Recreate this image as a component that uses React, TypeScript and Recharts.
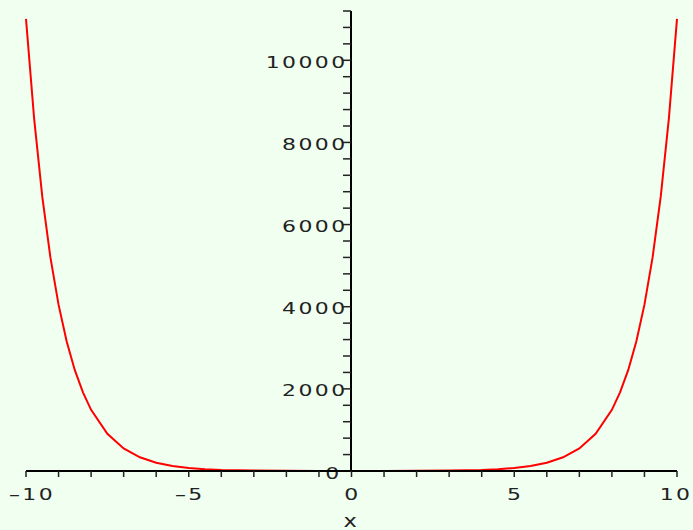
import { LineChart, Line, XAxis, YAxis } from 'recharts'

const xs = [-10, -9.75, -9.5, -9.25, -9, -8.75, -8.5, -8.25, -8, -7.5, -7, -6.5, -6, -5.5, -5, -4.5, -4, -3, -2, -1, 0, 1, 2, 3, 4, 4.5, 5, 5.5, 6, 6.5, 7, 7.5, 8, 8.25, 8.5, 8.75, 9, 9.25, 9.5, 9.75, 10]
const ys = [11010, 8580, 6680, 5200, 4050, 3155, 2455, 1915, 1490, 905, 550, 333, 202, 122, 74, 45, 27, 10, 4, 1.5, 1, 1.5, 4, 10, 27, 45, 74, 122, 202, 333, 550, 905, 1490, 1915, 2455, 3155, 4050, 5200, 6680, 8580, 11010]

const xTicks = [-10, -9, -8, -7, -6, -5, -4, -3, -2, -1, 0, 1, 2, 3, 4, 5, 6, 7, 8, 9, 10]
const yTicks = [0, 400, 800, 1200, 1600, 2000, 2400, 2800, 3200, 3600, 4000, 4400, 4800, 5200, 5600, 6000, 6400, 6800, 7200, 7600, 8000, 8400, 8800, 9200, 9600, 10000, 10400, 10800, 11200]

const data = xs.map((x, i) => ({ x, y: ys[i] }))

const FONT = '"DejaVu Sans", sans-serif'
const TEXT = '#222'
const BG = '#f0fff0'
// wide plot font: stretch DejaVu horizontally
const SX = 1.33

function WideText({ x, y, anchor, children, size = 16.5 }: any) {
  return (
    <text transform={`translate(${x},${y}) scale(${SX},1)`} x={0} y={0} textAnchor={anchor}
      fontFamily={FONT} fontSize={size} letterSpacing={1.8} fill={TEXT}>
      {children}
    </text>
  )
}

function XTick(props: any) {
  const { x, y, payload } = props
  const v = payload.value
  if (v % 5 !== 0) return <g />
  const label = v < 0 ? '\u2013' + Math.abs(v) : String(v)
  const dx = v === -10 ? 6 : v === 10 ? -1 : 1
  return <WideText x={x + dx} y={y + 21} anchor="middle">{label}</WideText>
}

function YTick(props: any) {
  const { x, y, payload } = props
  const v = payload.value
  if (v % 2000 !== 0) return <g />
  return <WideText x={x + (v === 0 ? 0.5 : 6.5)} y={y + 7.5} anchor="end">{v}</WideText>
}

function XLabel(props: any) {
  const vb = props.viewBox
  return <WideText x={vb.x + vb.width / 2} y={vb.y + vb.height - 3} anchor="middle" size={17}>x</WideText>
}

export default function App() {
  return (
    <div style={{ position: 'absolute', left: 0, top: 0, width: 693, height: 530, background: BG }}>
      {/* y axis sits at x = 0, drawn by a second chart underneath */}
      <div style={{ position: 'absolute', left: 0, top: 0 }}>
        <LineChart width={693} height={530} data={data} margin={{ top: 11, right: 0, left: 291, bottom: 59 }}>
          <XAxis dataKey="x" type="number" domain={[-10, 10]} hide />
          <YAxis
            type="number"
            domain={[0, 11200]}
            ticks={yTicks}
            interval={0}
            width={60}
            tickSize={8}
            axisLine={{ stroke: '#000', strokeWidth: 2 }}
            tickLine={{ stroke: '#222', strokeWidth: 1.5 }}
            tick={YTick}
          />
          <Line dataKey="y" stroke="none" dot={false} isAnimationActive={false} />
        </LineChart>
      </div>
      <div style={{ position: 'absolute', left: 0, top: 0 }}>
        <LineChart width={693} height={530} data={data} margin={{ top: 11, right: 16, left: 26, bottom: 0 }}>
          <XAxis
            dataKey="x"
            type="number"
            domain={[-10, 10]}
            ticks={xTicks}
            interval={0}
            height={59}
            tickSize={6}
            tickMargin={2}
            axisLine={{ stroke: '#000', strokeWidth: 2 }}
            tickLine={{ stroke: '#222', strokeWidth: 1.5 }}
            tick={XTick}
            label={{ content: XLabel }}
          />
          <YAxis type="number" domain={[0, 11200]} hide />
          <Line
            type="linear"
            dataKey="y"
            stroke="#ff0000"
            strokeWidth={2}
            dot={false}
            isAnimationActive={false}
          />
        </LineChart>
      </div>
    </div>
  )
}
